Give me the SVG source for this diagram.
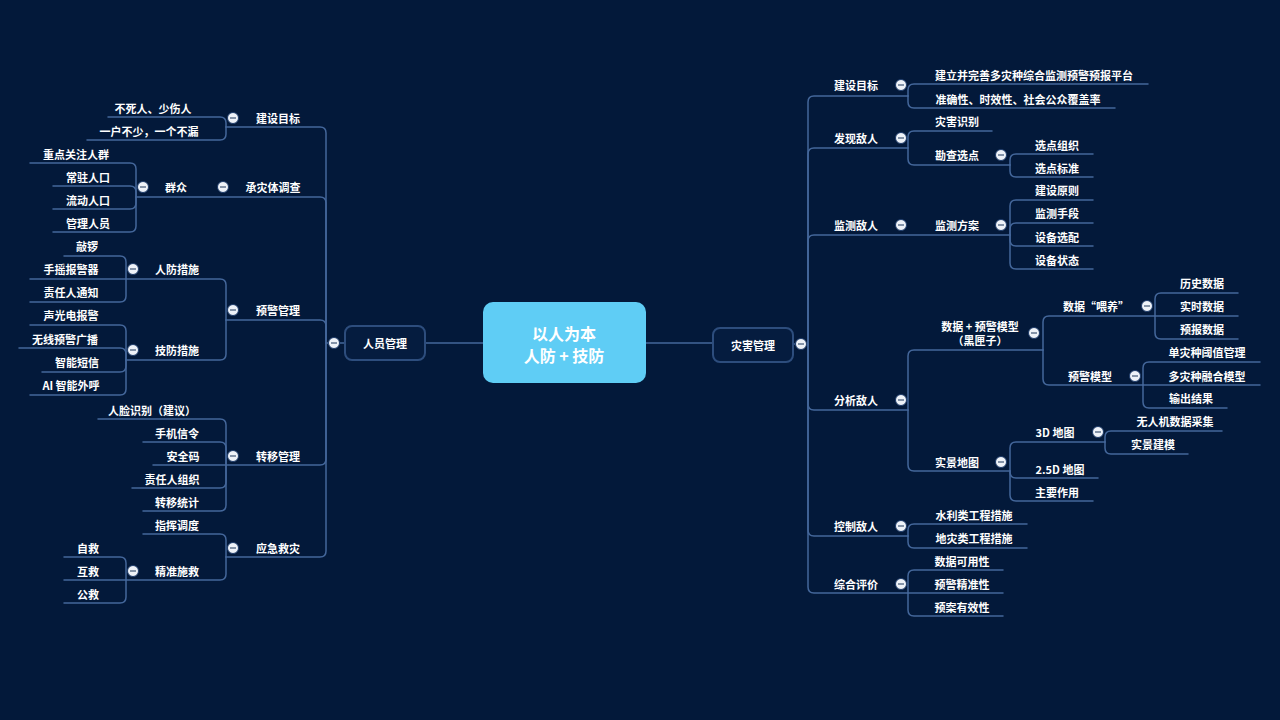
<svg xmlns="http://www.w3.org/2000/svg" xmlns:xlink="http://www.w3.org/1999/xlink" width="1280" height="720" viewBox="0 0 1280 720">
<style>
.bg{fill:#03193a}
.ln{fill:none;stroke:#44679b;stroke-width:1.5;stroke-linecap:round}
.t{font-family:"Noto Sans CJK SC","Noto Sans",sans-serif;font-size:11px;font-weight:600;fill:#ffffff;text-anchor:middle;dominant-baseline:central}
.box{fill:#051c3f;stroke:#2d4d7d;stroke-width:2}
.rt{font-family:"Noto Sans CJK SC","Noto Sans",sans-serif;font-size:16px;font-weight:700;fill:#ffffff;text-anchor:middle;dominant-baseline:central}
</style>
<defs>
<g id="tog"><circle r="5.5" fill="#eef2f8" stroke="#1d3b6a" stroke-width="1"/><line x1="-3" y1="0" x2="3" y2="0" stroke="#6a7b94" stroke-width="1.6"/></g>
</defs>
<rect class="bg" x="0" y="0" width="1280" height="720"/>

<g id="connectors">
<!-- left trunk -->
<path class="ln" d="M326,343 H345"/>
<path class="ln" d="M226,127 H320 Q326,127 326,133 V343"/>
<path class="ln" d="M136,197 H320 Q326,197 326,203 V343"/>
<path class="ln" d="M226,320 H320 Q326,320 326,326 V343"/>
<path class="ln" d="M226,465 H320 Q326,465 326,459 V343"/>
<path class="ln" d="M226,557 H320 Q326,557 326,551 V343"/>
<!-- 建设目标 L -->
<path class="ln" d="M108,117 H220 Q226,117 226,123 V127"/>
<path class="ln" d="M87,140 H220 Q226,140 226,134 V127"/>
<!-- 群众 -->
<path class="ln" d="M30,163 H130 Q136,163 136,169 V197"/>
<path class="ln" d="M53,186 H130 Q136,186 136,192 V197"/>
<path class="ln" d="M53,209 H130 Q136,209 136,203 V197"/>
<path class="ln" d="M53,232 H130 Q136,232 136,226 V197"/>
<!-- 预警管理 -->
<path class="ln" d="M126,279 H220 Q226,279 226,285 V320"/>
<path class="ln" d="M126,360 H220 Q226,360 226,354 V320"/>
<path class="ln" d="M64,256 H120 Q126,256 126,262 V279"/>
<path class="ln" d="M30,279 H126"/>
<path class="ln" d="M30,302 H120 Q126,302 126,296 V279"/>
<path class="ln" d="M30,325 H120 Q126,325 126,331 V360"/>
<path class="ln" d="M19,348 H120 Q126,348 126,354 V360"/>
<path class="ln" d="M42,372 H120 Q126,372 126,366 V360"/>
<path class="ln" d="M30,395 H120 Q126,395 126,389 V360"/>
<!-- 转移管理 -->
<path class="ln" d="M98,419 H220 Q226,419 226,425 V465"/>
<path class="ln" d="M143,442 H220 Q226,442 226,448 V465"/>
<path class="ln" d="M153,465 H226"/>
<path class="ln" d="M132,488 H220 Q226,488 226,482 V465"/>
<path class="ln" d="M143,511 H220 Q226,511 226,505 V465"/>
<!-- 应急救灾 -->
<path class="ln" d="M143,534 H220 Q226,534 226,540 V557"/>
<path class="ln" d="M126,580 H220 Q226,580 226,574 V557"/>
<path class="ln" d="M64,557 H120 Q126,557 126,563 V580"/>
<path class="ln" d="M64,580 H126"/>
<path class="ln" d="M64,603 H120 Q126,603 126,597 V580"/>

<!-- center links -->
<path class="ln" d="M425,343 H483"/>
<path class="ln" d="M646,343 H713"/>

<!-- right trunk -->
<path class="ln" d="M793,344 H808"/>
<path class="ln" d="M908,96 H814 Q808,96 808,102 V344"/>
<path class="ln" d="M908,148 H814 Q808,148 808,154 V344"/>
<path class="ln" d="M1010,235 H814 Q808,235 808,241 V344"/>
<path class="ln" d="M908,410 H814 Q808,410 808,404 V344"/>
<path class="ln" d="M908,536 H814 Q808,536 808,530 V344"/>
<path class="ln" d="M1003,593 H814 Q808,593 808,587 V344"/>
<!-- 建设目标 R -->
<path class="ln" d="M908,96 V90 Q908,84 914,84 H1148"/>
<path class="ln" d="M908,96 V102 Q908,108 914,108 H1115"/>
<!-- 发现敌人 -->
<path class="ln" d="M908,148 V137 Q908,131 914,131 H992"/>
<path class="ln" d="M908,148 V159 Q908,165 914,165 H1010"/>
<path class="ln" d="M1010,165 V160 Q1010,154 1016,154 H1093"/>
<path class="ln" d="M1010,165 V171 Q1010,177 1016,177 H1093"/>
<!-- 监测方案 -->
<path class="ln" d="M1010,235 V206 Q1010,200 1016,200 H1093"/>
<path class="ln" d="M1010,235 V229 Q1010,223 1016,223 H1093"/>
<path class="ln" d="M1010,235 V240 Q1010,246 1016,246 H1093"/>
<path class="ln" d="M1010,235 V263 Q1010,269 1016,269 H1093"/>
<!-- 分析敌人 -->
<path class="ln" d="M908,410 V356 Q908,350 914,350 H1043"/>
<path class="ln" d="M908,410 V465 Q908,471 914,471 H1010"/>
<path class="ln" d="M1043,350 V322 Q1043,316 1049,316 H1155"/>
<path class="ln" d="M1043,350 V379 Q1043,385 1049,385 H1143"/>
<path class="ln" d="M1155,316 V299 Q1155,293 1161,293 H1238"/>
<path class="ln" d="M1155,316 H1238"/>
<path class="ln" d="M1155,316 V333 Q1155,339 1161,339 H1238"/>
<path class="ln" d="M1143,385 V368 Q1143,362 1149,362 H1260"/>
<path class="ln" d="M1143,385 H1260"/>
<path class="ln" d="M1143,385 V402 Q1143,408 1149,408 H1227"/>
<path class="ln" d="M1010,471 V448 Q1010,442 1016,442 H1105"/>
<path class="ln" d="M1010,471 V472 Q1010,478 1016,478 H1098"/>
<path class="ln" d="M1010,471 V495 Q1010,501 1016,501 H1093"/>
<path class="ln" d="M1105,442 V437 Q1105,431 1111,431 H1222"/>
<path class="ln" d="M1105,442 V448 Q1105,454 1111,454 H1188"/>
<!-- 控制敌人 -->
<path class="ln" d="M908,536 V530 Q908,524 914,524 H1027"/>
<path class="ln" d="M908,536 V542 Q908,548 914,548 H1027"/>
<!-- 综合评价 -->
<path class="ln" d="M908,593 V576 Q908,570 914,570 H1003"/>
<path class="ln" d="M908,593 V610 Q908,616 914,616 H1003"/>
</g>

<g id="root">
<rect x="483" y="302" width="163" height="81" rx="10" fill="#5fcdf5"/>
<text class="rt" x="564" y="333">以人为本</text>
<text class="rt" x="564" y="355">人防 + 技防</text>
</g>

<g id="n-renyuan">
<rect class="box" x="345" y="326" width="80" height="34" rx="7"/>
<text class="t" x="385" y="343">人员管理</text>
<use xlink:href="#tog" href="#tog" x="334" y="343"/>
</g>
<g id="n-zaihai">
<rect class="box" x="713" y="328" width="80" height="34" rx="7"/>
<text class="t" x="753" y="345">灾害管理</text>
<use xlink:href="#tog" href="#tog" x="801" y="344"/>
</g>

<!-- left nodes -->
<g id="l-jianshe"><text class="t" x="278" y="118">建设目标</text><use href="#tog" x="233" y="118"/></g>
<g id="l-jianshe-1"><text class="t" x="153" y="108">不死人、少伤人</text></g>
<g id="l-jianshe-2"><text class="t" x="149" y="131">一户不少，一个不漏</text></g>
<g id="l-chengzai"><text class="t" x="273" y="187">承灾体调查</text><use href="#tog" x="223" y="187"/></g>
<g id="l-qunzhong"><text class="t" x="176" y="187">群众</text><use href="#tog" x="143" y="187"/></g>
<g id="l-qz-1"><text class="t" x="76" y="154">重点关注人群</text></g>
<g id="l-qz-2"><text class="t" x="88" y="177">常驻人口</text></g>
<g id="l-qz-3"><text class="t" x="88" y="200">流动人口</text></g>
<g id="l-qz-4"><text class="t" x="88" y="223">管理人员</text></g>
<g id="l-yujing"><text class="t" x="278" y="310">预警管理</text><use href="#tog" x="233" y="310"/></g>
<g id="l-renfang"><text class="t" x="177" y="269">人防措施</text><use href="#tog" x="133" y="269"/></g>
<g id="l-rf-1"><text class="t" x="87" y="246">敲锣</text></g>
<g id="l-rf-2"><text class="t" x="71" y="269">手摇报警器</text></g>
<g id="l-rf-3"><text class="t" x="71" y="292">责任人通知</text></g>
<g id="l-jifang"><text class="t" x="177" y="350">技防措施</text><use href="#tog" x="133" y="350"/></g>
<g id="l-jf-1"><text class="t" x="71" y="315">声光电报警</text></g>
<g id="l-jf-2"><text class="t" x="65" y="339">无线预警广播</text></g>
<g id="l-jf-3"><text class="t" x="77" y="362">智能短信</text></g>
<g id="l-jf-4"><text class="t" x="71" y="385">AI 智能外呼</text></g>
<g id="l-zhuanyi"><text class="t" x="278" y="456">转移管理</text><use href="#tog" x="233" y="456"/></g>
<g id="l-zy-1"><text class="t" x="152" y="410">人脸识别（建议）</text></g>
<g id="l-zy-2"><text class="t" x="177" y="433">手机信令</text></g>
<g id="l-zy-3"><text class="t" x="183" y="456">安全码</text></g>
<g id="l-zy-4"><text class="t" x="172" y="479">责任人组织</text></g>
<g id="l-zy-5"><text class="t" x="177" y="502">转移统计</text></g>
<g id="l-yingji"><text class="t" x="278" y="548">应急救灾</text><use href="#tog" x="233" y="548"/></g>
<g id="l-yj-1"><text class="t" x="177" y="525">指挥调度</text></g>
<g id="l-jingzhun"><text class="t" x="177" y="571">精准施救</text><use href="#tog" x="133" y="571"/></g>
<g id="l-jz-1"><text class="t" x="88" y="548">自救</text></g>
<g id="l-jz-2"><text class="t" x="88" y="571">互救</text></g>
<g id="l-jz-3"><text class="t" x="88" y="594">公救</text></g>

<!-- right nodes -->
<g id="r-jianshe"><text class="t" x="856" y="85">建设目标</text><use href="#tog" x="901" y="85"/></g>
<g id="r-js-1"><text class="t" x="1034" y="75">建立并完善多灾种综合监测预警预报平台</text></g>
<g id="r-js-2"><text class="t" x="1018" y="99">准确性、时效性、社会公众覆盖率</text></g>
<g id="r-faxian"><text class="t" x="856" y="138">发现敌人</text><use href="#tog" x="901" y="138"/></g>
<g id="r-fx-1"><text class="t" x="957" y="121">灾害识别</text></g>
<g id="r-kancha"><text class="t" x="957" y="155">勘查选点</text><use href="#tog" x="1001" y="155"/></g>
<g id="r-kc-1"><text class="t" x="1057" y="145">选点组织</text></g>
<g id="r-kc-2"><text class="t" x="1057" y="168">选点标准</text></g>
<g id="r-jiance"><text class="t" x="856" y="225">监测敌人</text><use href="#tog" x="901" y="225"/></g>
<g id="r-fangan"><text class="t" x="957" y="225">监测方案</text><use href="#tog" x="1001" y="225"/></g>
<g id="r-fa-1"><text class="t" x="1057" y="190">建设原则</text></g>
<g id="r-fa-2"><text class="t" x="1057" y="213">监测手段</text></g>
<g id="r-fa-3"><text class="t" x="1057" y="237">设备选配</text></g>
<g id="r-fa-4"><text class="t" x="1057" y="260">设备状态</text></g>
<g id="r-fenxi"><text class="t" x="856" y="400">分析敌人</text><use href="#tog" x="901" y="400"/></g>
<g id="r-moxing"><text class="t" x="980" y="326">数据 + 预警模型</text><text class="t" x="980" y="340">（黑匣子）</text><use href="#tog" x="1034" y="333"/></g>
<g id="r-weiyang"><text class="t" x="1096" y="306">数据“喂养”</text><use href="#tog" x="1147" y="306"/></g>
<g id="r-wy-1"><text class="t" x="1202" y="283">历史数据</text></g>
<g id="r-wy-2"><text class="t" x="1202" y="306">实时数据</text></g>
<g id="r-wy-3"><text class="t" x="1202" y="329">预报数据</text></g>
<g id="r-yjmx"><text class="t" x="1090" y="376">预警模型</text><use href="#tog" x="1135" y="376"/></g>
<g id="r-mx-1"><text class="t" x="1207" y="352">单灾种阈值管理</text></g>
<g id="r-mx-2"><text class="t" x="1207" y="376">多灾种融合模型</text></g>
<g id="r-mx-3"><text class="t" x="1191" y="398">输出结果</text></g>
<g id="r-shijing"><text class="t" x="957" y="462">实景地图</text><use href="#tog" x="1001" y="462"/></g>
<g id="r-3d"><text class="t" x="1055" y="432">3D 地图</text><use href="#tog" x="1098" y="432"/></g>
<g id="r-3d-1"><text class="t" x="1175" y="421">无人机数据采集</text></g>
<g id="r-3d-2"><text class="t" x="1153" y="444">实景建模</text></g>
<g id="r-25d"><text class="t" x="1060" y="469">2.5D 地图</text></g>
<g id="r-zuoyong"><text class="t" x="1057" y="492">主要作用</text></g>
<g id="r-kongzhi"><text class="t" x="856" y="526">控制敌人</text><use href="#tog" x="901" y="526"/></g>
<g id="r-kz-1"><text class="t" x="974" y="515">水利类工程措施</text></g>
<g id="r-kz-2"><text class="t" x="974" y="538">地灾类工程措施</text></g>
<g id="r-pingjia"><text class="t" x="856" y="584">综合评价</text><use href="#tog" x="901" y="584"/></g>
<g id="r-pj-1"><text class="t" x="962" y="561">数据可用性</text></g>
<g id="r-pj-2"><text class="t" x="962" y="584">预警精准性</text></g>
<g id="r-pj-3"><text class="t" x="962" y="607">预案有效性</text></g>
</svg>
